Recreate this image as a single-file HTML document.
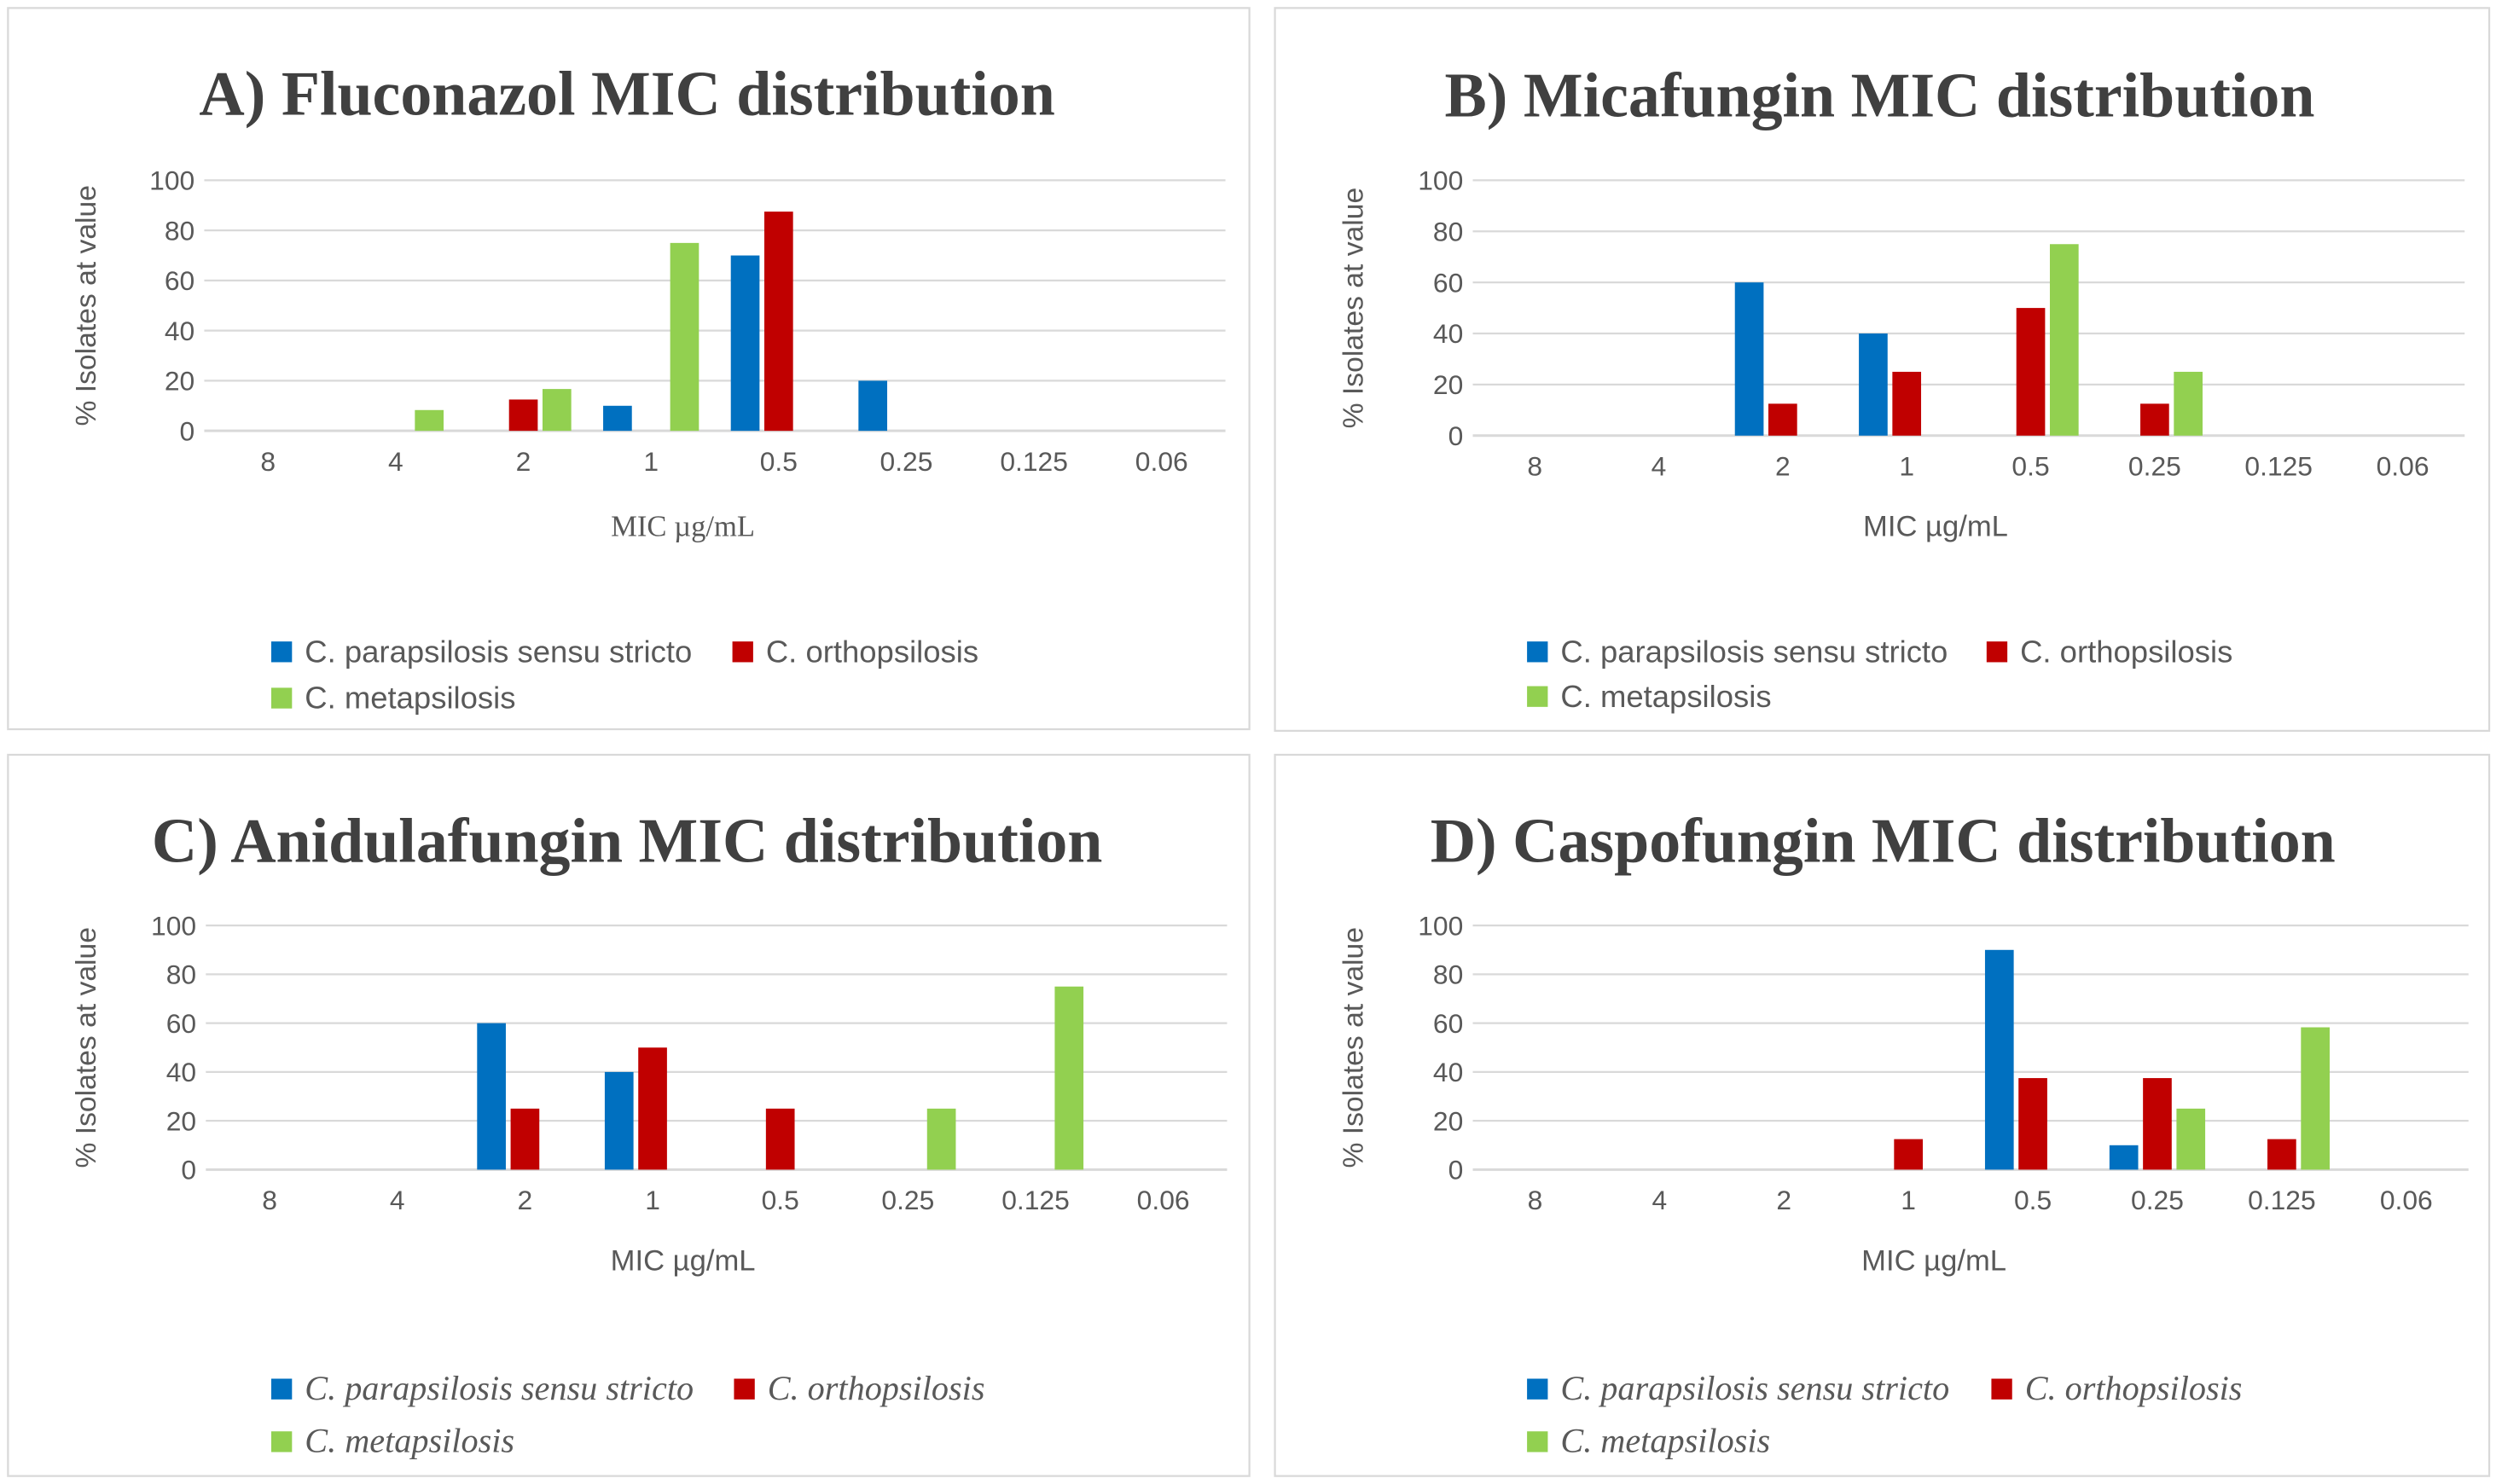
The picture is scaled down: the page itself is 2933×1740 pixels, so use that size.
<!DOCTYPE html>
<html><head><meta charset="utf-8"><style>
html,body{margin:0;padding:0;background:#fff;}
svg{display:block;}
</style></head><body>
<svg id="fig" width="2933" height="1740" viewBox="0 0 1568 930" preserveAspectRatio="none" xmlns="http://www.w3.org/2000/svg"></svg>
<script>
const categories = ["8","4","2","1","0.5","0.25","0.125","0.06"];
const yTicks = [0,20,40,60,80,100];
const seriesNames = ["C. parapsilosis sensu stricto","C. orthopsilosis","C. metapsilosis"];
const colors = ["#0070C0","#C00000","#92D050"];
// Fluconazol
const aBlue  = [null,null,null,10,70,20,null,null];
const aRed   = [null,null,12.5,null,87.5,null,null,null];
const aGreen = [null,8.3,16.7,75,null,null,null,null];
// Micafungin
const bBlue  = [null,null,60,40,null,null,null,null];
const bRed   = [null,null,12.5,25,50,12.5,null,null];
const bGreen = [null,null,null,null,75,25,null,null];
// Anidulafungin
const cBlue  = [null,null,60,40,null,null,null,null];
const cRed   = [null,null,25,50,25,null,null,null];
const cGreen = [null,null,null,null,null,25,75,null];
// Caspofungin
const dBlue  = [null,null,null,null,90,10,null,null];
const dRed   = [null,null,null,12.5,37.5,37.5,12.5,null];
const dGreen = [null,null,null,null,null,25,58.3,null];

const NS="http://www.w3.org/2000/svg";
const svg=document.getElementById('fig');
function mk(tag,attrs,parent){const e=document.createElementNS(NS,tag);for(const k in attrs)e.setAttribute(k,attrs[k]);(parent||svg).appendChild(e);return e;}

const panels=[
 {key:'a',title:'A) Fluconazol MIC distribution',data:[aBlue,aRed,aGreen],box:[5,5,778,452],tx:393,ty:72,x0:128,cw:80,y0:270,y100:113,xt:428,xty:336,lx:170,ly1:409,ly2:438,lx2:459,italic:false},
 {key:'b',title:'B) Micafungin MIC distribution',data:[bBlue,bRed,bGreen],box:[799,5,761,453],tx:1178,ty:73,x0:923,cw:77.7,y0:273,y100:113,xt:1213,xty:336,lx:957,ly1:409,ly2:437,lx2:1245,italic:false},
 {key:'c',title:'C) Anidulafungin MIC distribution',data:[cBlue,cRed,cGreen],box:[5,473,778,452],tx:393,ty:540,x0:129,cw:80,y0:733,y100:580,xt:428,xty:796,lx:170,ly1:871,ly2:904,lx2:460,italic:true},
 {key:'d',title:'D) Caspofungin MIC distribution',data:[dBlue,dRed,dGreen],box:[799,473,761,452],tx:1180,ty:540,x0:923,cw:78,y0:733,y100:580,xt:1212,xty:796,lx:957,ly1:871,ly2:904,lx2:1248,italic:true}
];

panels.forEach(p=>{
  const g=mk('g',{});
  
  
  const b=mk('rect',{x:p.box[0],y:p.box[1],width:p.box[2],height:p.box[3],fill:'#fff',stroke:'#d9d9d9','stroke-width':1.2},g);
  
  
  const t=mk('text',{x:p.tx,y:p.ty,'text-anchor':'middle','font-family':'Liberation Serif, serif','font-weight':'bold','font-size':39.5,fill:'#404040'},g);
  t.textContent=p.title;
  
  
  const yS=v=>p.y0-(p.y0-p.y100)*v/100;
  const xEnd=p.x0+p.cw*categories.length;
  yTicks.forEach(v=>{
    const l=mk('line',{x1:p.x0,x2:xEnd,y1:yS(v),y2:yS(v),stroke:'#d9d9d9','stroke-width':v===0?1.6:1.2},g);
    
    
    const tl=mk('text',{x:p.x0-6,y:yS(v)+6,'text-anchor':'end','font-family':'Liberation Sans, sans-serif','font-size':17,fill:'#595959'},g);
    tl.textContent=v;
    
    
  });
  categories.forEach((c,i)=>{
    const tl=mk('text',{x:p.x0+p.cw*(i+0.5),y:p.y0+25,'text-anchor':'middle','font-family':'Liberation Sans, sans-serif','font-size':17,fill:'#595959'},g);
    tl.textContent=c;
    
    
  });
  const bw=18, off=[-21,0,21];
  p.data.forEach((arr,s)=>{
    arr.forEach((v,i)=>{
      if(v==null)return;
      const cx=p.x0+p.cw*(i+0.5)+off[s];
      const r=mk('rect',{x:cx-bw/2,y:yS(v),width:bw,height:yS(0)-yS(v),fill:colors[s]},g);
      
      
    });
  });
  const yt=mk('text',{transform:`translate(${p.box[0]+55},${(p.y0+p.y100)/2}) rotate(-90)`,'text-anchor':'middle','font-family':'Liberation Sans, sans-serif','font-size':18,fill:'#595959'},g);
  yt.textContent='% Isolates at value';
  
  
  const xt=mk('text',{x:p.xt,y:p.xty,'text-anchor':'middle','font-family':p.key==='a'?'Liberation Serif, serif':'Liberation Sans, sans-serif','font-size':18.5,fill:'#595959'},g);
  xt.textContent='MIC µg/mL';
  
  
  const pos=[[p.lx,p.ly1],[p.lx2,p.ly1],[p.lx,p.ly2]];
  pos.forEach((ps,s)=>{
    const sw=mk('rect',{x:ps[0],y:ps[1]-7,width:13,height:13,fill:colors[s]},g);
    
    
    const lt=mk('text',{x:ps[0]+21,y:ps[1]+6,'font-family':p.italic?'Liberation Serif, serif':'Liberation Sans, sans-serif','font-style':p.italic?'italic':'normal','font-size':p.italic?21.5:19.5,fill:'#595959'},g);
    lt.textContent=seriesNames[s];
    
    
  });
});
</script>
</body></html>
